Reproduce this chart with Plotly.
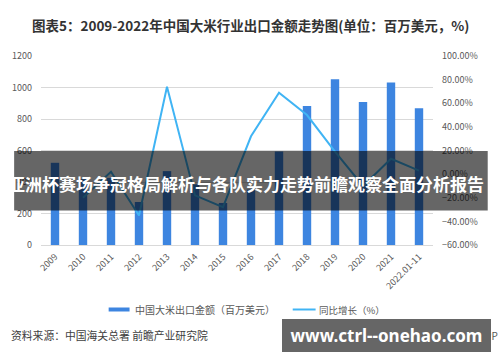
import plotly.graph_objects as go

# ---- data ----
categories = ["2009", "2010", "2011", "2012", "2013", "2014", "2015", "2016",
              "2017", "2018", "2019", "2020", "2021", "2022.01-11"]
export_value = [522, 418, 426, 273, 469, 385, 267, 352, 593, 883, 1052, 908, 1031, 869]
yoy_growth = [None, -0.20, 0.02, -0.35, 0.74, -0.18, -0.28, 0.32, 0.69, 0.50, 0.19, -0.10, 0.13, 0.03]
left_ticks = [0, 200, 400, 600, 800, 1000, 1200]
right_ticks = [-0.6, -0.4, -0.2, 0.0, 0.2, 0.4, 0.6, 0.8, 1.0]

title_text = "图表5：2009-2022年中国大米行业出口金额走势图(单位：百万美元，%)"
bar_name = "中国大米出口金额（百万美元）"
line_name = "同比增长（%）"
source_text = "资料来源：中国海关总署 前瞻产业研究院"
banner_text = "亚洲杯赛场争冠格局解析与各队实力走势前瞻观察全面分析报告"
watermark_text = "www.ctrl--onehao.com"
app_text = "前瞻经济学人APP"

BAR_COLOR = "#3d85e0"
LINE_COLOR = "#40b4f4"
FONT = "Noto Sans CJK SC"

W, H = 500, 362
L, R, T, B = 39, 433, 56, 245   # plot area in pixels


def px(x):
    return (x - L) / (R - L)


def py(y):
    return (B - y) / (B - T)


fig = go.Figure()
fig.add_trace(go.Bar(x=categories, y=export_value, name=bar_name,
                     marker=dict(color=BAR_COLOR, line=dict(width=0)),
                     showlegend=False))
fig.add_trace(go.Scatter(x=categories, y=yoy_growth, name=line_name, yaxis="y2",
                         mode="lines", line=dict(color=LINE_COLOR, width=2),
                         showlegend=False))

shapes = [
    # legend swatches
    dict(type="rect", xref="paper", yref="paper", x0=px(107), x1=px(128),
         y0=py(311.5), y1=py(307.5), fillcolor=BAR_COLOR, line=dict(width=0)),
    dict(type="line", xref="paper", yref="paper", x0=px(292), x1=px(315),
         y0=py(309.5), y1=py(309.5), line=dict(color=LINE_COLOR, width=2)),
    # overlay banner
    dict(type="rect", xref="paper", yref="paper", x0=px(12), x1=px(488),
         y0=py(210.5), y1=py(151), fillcolor="rgba(0,0,0,0.6)",
         line=dict(width=0), layer="above"),
]

annotations = [
    dict(text=title_text, x=px(250), y=py(25), xref="paper", yref="paper",
         showarrow=False, xanchor="center", yanchor="middle",
         font=dict(family=FONT, size=13.5, color="#333333", weight="bold")),
    dict(text=bar_name, x=px(131), y=py(309.5), xref="paper", yref="paper",
         showarrow=False, xanchor="left", yanchor="middle",
         font=dict(family=FONT, size=10, color="#595959")),
    dict(text=line_name, x=px(316), y=py(309.5), xref="paper", yref="paper",
         showarrow=False, xanchor="left", yanchor="middle",
         font=dict(family=FONT, size=9.5, color="#595959")),
    dict(text=source_text, x=px(7), y=py(335), xref="paper", yref="paper",
         showarrow=False, xanchor="left", yanchor="middle",
         font=dict(family=FONT, size=10.8, color="#404040")),
    dict(text=banner_text, x=px(245), y=py(183.5), xref="paper", yref="paper",
         showarrow=False, xanchor="center", yanchor="middle",
         font=dict(family=FONT, size=17, color="#ffffff", weight="bold")),
    dict(text=app_text, x=px(500), y=py(335), xref="paper", yref="paper",
         showarrow=False, xanchor="right", yanchor="middle",
         font=dict(family=FONT, size=10, color="#595959")),
    dict(text=watermark_text, x=px(386.5), y=py(335.5), xref="paper", yref="paper",
         showarrow=False, xanchor="center", yanchor="middle",
         width=209, height=33, bgcolor="#666666", borderpad=0, borderwidth=0,
         font=dict(family="Noto Sans", size=17, color="#ffffff", weight="bold")),
]

fig.update_layout(
    width=W, height=H,
    margin=dict(l=L, r=W - R, t=T, b=B and H - B),
    paper_bgcolor="white", plot_bgcolor="white",
    font=dict(family=FONT, size=9, color="#595959"),
    bargap=0.7,
    xaxis=dict(type="category", tickangle=-45, tickfont=dict(size=9, color="#595959"),
               showline=True, linecolor="#d9d9d9", linewidth=1, ticks="",
               showgrid=False, ticklabelstandoff=2),
    yaxis=dict(range=[0, 1200], tickvals=left_ticks, showgrid=True,
               gridcolor="#d9d9d9", gridwidth=1, zeroline=False, ticks="",
               tickfont=dict(size=9, color="#595959"), ticklabelstandoff=8),
    yaxis2=dict(range=[-0.6, 1.0], tickvals=right_ticks, tickformat=".2%",
                overlaying="y", side="right", showgrid=False, zeroline=False,
                ticks="", tickfont=dict(size=9, color="#595959"),
                ticklabelstandoff=8),
    shapes=shapes,
    annotations=annotations,
)

fig.write_html("out.html")
